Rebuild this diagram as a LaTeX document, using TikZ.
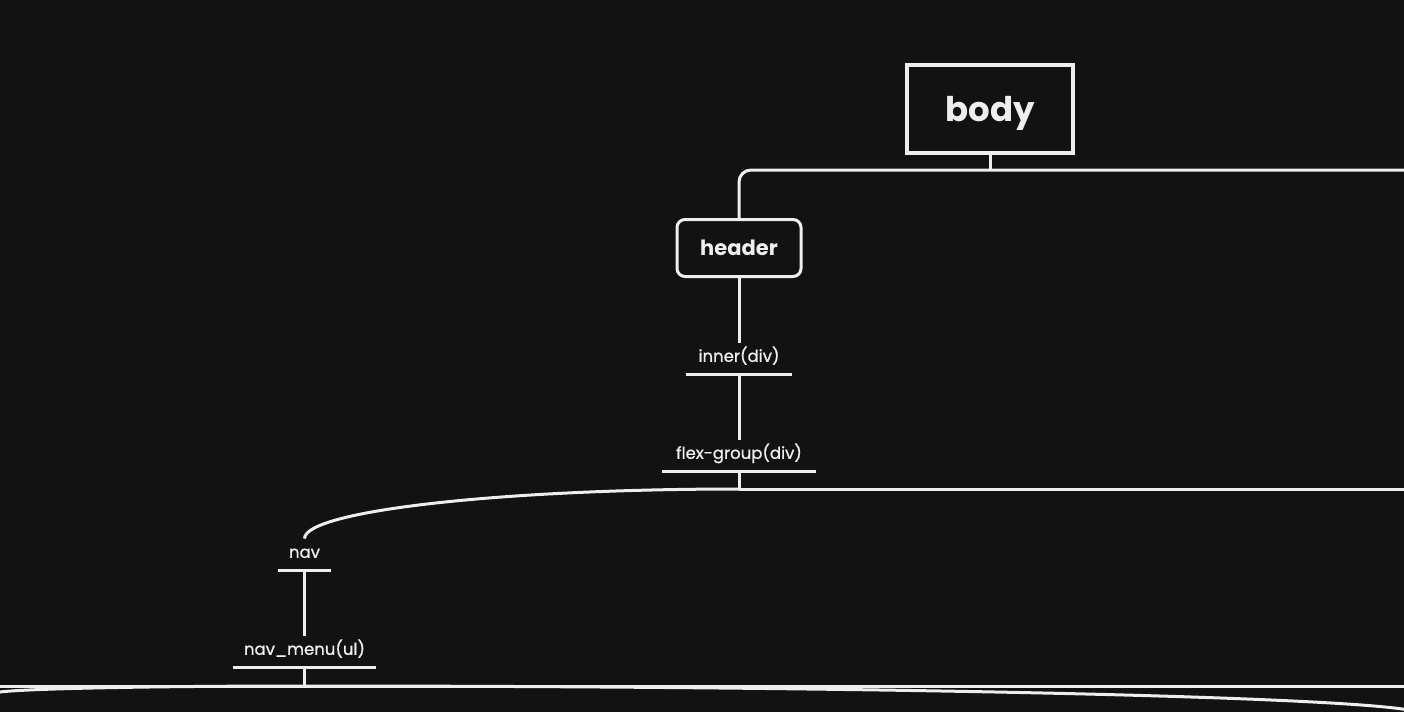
\documentclass[tikz,border=0pt]{standalone}
\usepackage{fontspec}
\setmainfont{Poppins}
\definecolor{bg}{HTML}{121212}
\definecolor{fg}{HTML}{EEEEEE}
\tikzset{
  wire/.style={draw=fg, line width=3pt},
  rootbox/.style={draw=fg, line width=4pt, minimum width=166pt, minimum height=88pt, inner sep=0pt, text height=30pt, text depth=6pt, text=fg, font=\bfseries\fontsize{34}{40}\selectfont},
  secbox/.style={draw=fg, line width=3pt, rounded corners=8pt, minimum width=124pt, minimum height=57pt, inner sep=0pt, text=fg, font=\bfseries\fontsize{21}{26}\selectfont},
  lbl/.style={anchor=south, inner xsep=0pt, inner ysep=0pt, text height=19pt, text depth=12pt, text=fg, font=\addfontfeature{FakeBold=1}\fontsize{16.5}{20}\selectfont},
  bar/.style={draw=fg, line width=3pt}
}
\begin{document}
\begin{tikzpicture}[x=1pt,y=-1pt]
\fill[bg] (0,0) rectangle (1404,712);
\useasboundingbox (0,0) rectangle (1404,712);
\clip (0,0) rectangle (1404,712);

\node[rootbox] (body) at (990,109) {body};
\node[secbox] (header) at (739,248) {header};
\node[lbl, minimum width=105pt] (inner) at (739,374) {inner(div)};
\node[lbl, minimum width=153pt] (flex) at (739,471) {flex-group(div)};
\node[lbl, minimum width=53pt] (nav) at (304.5,570) {nav};
\node[lbl, minimum width=143pt] (menu) at (304.5,667) {nav\_menu(ul)};

\foreach \n in {inner,flex,nav,menu}
  \draw[bar] (\n.south west) -- (\n.south east);

\coordinate (bodyj) at (990,170);
\coordinate (bodyr) at (1410,170);
\coordinate (flexj) at (739,489);
\coordinate (flexr) at (1410,489);
\coordinate (menuj) at (304.5,686);
\coordinate (menul) at (-10,686);
\coordinate (menur) at (1410,686);
\coordinate (childr) at (1420,714);
\coordinate (childl) at (-5,693.3);

\draw[wire] (body.south) -- (bodyj);
\draw[wire, rounded corners=12pt] (header.north) |- (bodyr);
\draw[wire] (header.south) -- (inner.north);
\draw[wire] (inner.south) -- (flex.north);
\draw[wire] (flex.south) -- (flexj);
\draw[wire] (flexj) -- (flexr);
\draw[wire] (flexj) .. controls (499,489) and (304.5,511) .. (nav.north);
\draw[wire] (nav.south) -- (menu.north);
\draw[wire] (menu.south) -- (menuj);
\draw[wire] (menul) -- (menur);
\draw[wire] (menuj) .. controls (921,686) and (1420,698.5) .. (childr);
\draw[wire] (menuj) .. controls (134,686) and (-5,689.3) .. (childl);
\end{tikzpicture}
\end{document}
